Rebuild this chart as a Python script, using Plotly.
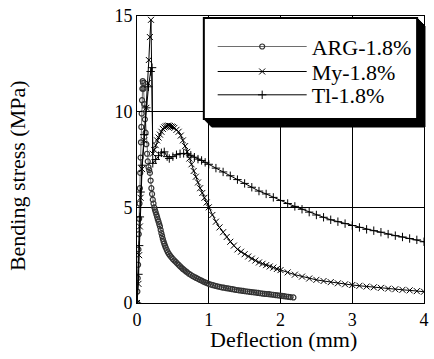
import plotly.graph_objects as go

# ---------------- data ----------------
arg_x = [0, 0.005, 0.01, 0.015, 0.02, 0.025, 0.03, 0.035, 0.04, 0.045, 0.05, 0.055, 0.06,
         0.065, 0.07, 0.075, 0.08, 0.085, 0.09, 0.10, 0.11, 0.12, 0.13, 0.14, 0.15, 0.16,
         0.17, 0.18, 0.19, 0.20, 0.21, 0.22, 0.23, 0.24, 0.25, 0.26, 0.27, 0.28, 0.29, 0.30,
         0.31, 0.32, 0.33, 0.34, 0.35, 0.36, 0.37, 0.38, 0.39, 0.40, 0.415, 0.43, 0.445, 0.46,
         0.48, 0.50, 0.52, 0.54, 0.56, 0.58, 0.60, 0.62, 0.64, 0.66, 0.68, 0.70, 0.725, 0.75,
         0.775, 0.80, 0.825, 0.85, 0.875, 0.90, 0.925, 0.95, 0.975, 1.0, 1.03, 1.06, 1.09,
         1.12, 1.15, 1.18, 1.21, 1.24, 1.27, 1.30, 1.33, 1.36, 1.39, 1.42, 1.45, 1.48, 1.51,
         1.54, 1.57, 1.60, 1.63, 1.66, 1.69, 1.72, 1.75, 1.78, 1.81, 1.84, 1.87, 1.90, 1.93,
         1.96, 1.99, 2.02, 2.05, 2.08, 2.11, 2.14, 2.18]
arg_y = [0, 0.6, 1.3, 2.0, 2.8, 3.6, 4.4, 5.2, 6.0, 6.8, 7.6, 8.4, 9.2,
         9.9, 10.6, 11.2, 11.6, 11.5, 11.2, 10.4, 9.6, 8.9, 8.3, 7.8, 7.4, 7.1,
         6.95, 6.8, 6.4, 6.0, 5.7, 5.4, 5.2, 5.0, 4.87, 4.75, 4.62, 4.5, 4.37, 4.25,
         4.12, 4.0, 3.82, 3.65, 3.5, 3.35, 3.22, 3.1, 3.0, 2.9, 2.77, 2.65, 2.56, 2.48,
         2.39, 2.3, 2.22, 2.15, 2.07, 2.0, 1.92, 1.85, 1.78, 1.72, 1.66, 1.6, 1.53, 1.47,
         1.41, 1.36, 1.31, 1.26, 1.21, 1.17, 1.12, 1.08, 1.04, 1.0, 0.96, 0.93, 0.9,
         0.87, 0.84, 0.82, 0.8, 0.78, 0.76, 0.74, 0.72, 0.7, 0.68, 0.66, 0.645, 0.63, 0.615,
         0.6, 0.585, 0.57, 0.555, 0.54, 0.525, 0.51, 0.495, 0.48, 0.47, 0.46, 0.445, 0.43, 0.415,
         0.4, 0.385, 0.37, 0.355, 0.34, 0.325, 0.31, 0.29]

my_x = [0, 0.02, 0.03, 0.04, 0.05, 0.07, 0.10, 0.13, 0.15, 0.165, 0.18, 0.195, 0.22,
        0.24, 0.26, 0.28, 0.30, 0.32, 0.34, 0.36, 0.38, 0.40, 0.42, 0.44, 0.46, 0.48, 0.50,
        0.52, 0.55, 0.58, 0.61, 0.64, 0.67, 0.70, 0.73, 0.76, 0.79, 0.82, 0.85, 0.88, 0.91,
        0.94, 0.97, 1.0, 1.05, 1.1, 1.15, 1.2, 1.25, 1.3, 1.35, 1.4, 1.45, 1.5, 1.55, 1.6,
        1.65, 1.7, 1.75, 1.8, 1.85, 1.9, 1.95, 2.0, 2.1, 2.2, 2.3, 2.4, 2.5, 2.6, 2.7, 2.8,
        2.9, 3.0, 3.1, 3.2, 3.3, 3.4, 3.5, 3.6, 3.7, 3.8, 3.9, 4.0]
my_y = [0, 1.0, 2.5, 4.0, 5.5, 7.0, 8.5, 10.2, 11.5, 12.7, 13.9, 14.8, 7.8,
        8.0, 8.25, 8.5, 8.65, 8.8, 8.95, 9.1, 9.18, 9.23, 9.26, 9.27, 9.25, 9.22, 9.2,
        9.15, 9.05, 8.95, 8.75, 8.5, 8.2, 7.9, 7.55, 7.25, 6.9, 6.6, 6.3, 6.0, 5.75,
        5.5, 5.25, 5.0, 4.6, 4.25, 3.95, 3.7, 3.45, 3.2, 3.0, 2.8, 2.68, 2.55, 2.43, 2.32,
        2.22, 2.12, 2.05, 1.98, 1.91, 1.85, 1.78, 1.72, 1.6, 1.48, 1.38, 1.28, 1.21, 1.15,
        1.09, 1.03, 0.98, 0.94, 0.9, 0.86, 0.82, 0.79, 0.75, 0.72, 0.69, 0.66, 0.62, 0.59]

tl_x = [0, 0.02, 0.03, 0.04, 0.05, 0.07, 0.10, 0.13, 0.16, 0.19, 0.21, 0.22, 0.26,
        0.30, 0.34, 0.38, 0.42, 0.45, 0.50, 0.55, 0.60, 0.65, 0.70, 0.75, 0.80, 0.85,
        0.90, 0.95, 1.0, 1.1, 1.2, 1.3, 1.4, 1.5, 1.6, 1.7, 1.8, 1.9, 2.0, 2.1, 2.2, 2.3,
        2.4, 2.5, 2.6, 2.7, 2.8, 2.9, 3.0, 3.1, 3.2, 3.3, 3.4, 3.5, 3.6, 3.7, 3.8, 3.9, 4.0]
tl_y = [0, 1.5, 3.0, 4.5, 5.8, 7.2, 8.8, 10.2, 11.3, 12.1, 12.3, 7.3, 7.5,
        7.7, 7.85, 7.9, 7.65, 7.55, 7.65, 7.75, 7.8, 7.82, 7.8, 7.72, 7.62, 7.52,
        7.45, 7.35, 7.25, 7.05, 6.85, 6.65, 6.45, 6.25, 6.05, 5.85, 5.7, 5.52, 5.36, 5.2,
        5.05, 4.9, 4.75, 4.6, 4.48, 4.35, 4.25, 4.15, 4.05, 3.95, 3.85, 3.78, 3.7, 3.6,
        3.52, 3.45, 3.37, 3.3, 3.2]

names = ["ARG-1.8%", "My-1.8%", "Tl-1.8%"]
x_ticks = [0, 1, 2, 3, 4]
y_ticks = [0, 5, 10, 15]

FONT = "Liberation Serif"

# plot area in pixels (for placing decoration)
W, H = 434, 359
L, R, T, B = 137, 5, 16, 56
PW, PH = W - L - R, H - T - B


def px(xp):
    return (xp - L) / PW


def py(yp):
    return (H - B - yp) / PH


fig = go.Figure()
fig.add_trace(go.Scatter(
    x=arg_x, y=arg_y, name=names[0], mode="lines+markers", legend="legend",
    line=dict(color="#6e6e6e", width=1),
    marker=dict(symbol="circle-open", size=5, color="#333333", line=dict(width=1.2)),
))
fig.add_trace(go.Scatter(
    x=my_x, y=my_y, name=names[1], mode="lines+markers", legend="legend2",
    line=dict(color="black", width=1),
    marker=dict(symbol="x-thin-open", size=6, color="black", line=dict(width=1, color="black")),
))
fig.add_trace(go.Scatter(
    x=tl_x, y=tl_y, name=names[2], mode="lines+markers", legend="legend3",
    line=dict(color="black", width=1),
    marker=dict(symbol="cross-thin-open", size=6, color="black", line=dict(width=1, color="black")),
))

axis_common = dict(
    showline=True, linecolor="black", linewidth=1, mirror="ticks",
    showgrid=True, gridcolor="black", gridwidth=1,
    ticks="inside", ticklen=5, tickcolor="black",
    zeroline=False, ticklabeloverflow="allow",
    tickfont=dict(family=FONT, size=18, color="black"),
)

fig.update_layout(
    width=W, height=H,
    margin=dict(l=L, r=R, t=T, b=B),
    paper_bgcolor="white", plot_bgcolor="white",
    font=dict(family=FONT, color="black"),
    xaxis=dict(range=[0, 4], tickvals=x_ticks, ticktext=[str(v) for v in x_ticks],
               **axis_common),
    yaxis=dict(range=[0, 15], tickvals=y_ticks, ticktext=[str(v) for v in y_ticks],
               **axis_common),
    showlegend=True,
)

leg_common = dict(
    bgcolor="rgba(0,0,0,0)", borderwidth=0,
    font=dict(family=FONT, size=22, color="black"),
    itemwidth=89, xanchor="left", yanchor="middle",
)
row_y = [46.7, 71.7, 95.0]
fig.update_layout(
    legend=dict(x=px(214), y=py(row_y[0]), **leg_common),
    legend2=dict(x=px(214), y=py(row_y[1]), **leg_common),
    legend3=dict(x=px(214), y=py(row_y[2]), **leg_common),
)

# legend frame with drop shadow
shadow = "M {a},{b} L {c},{d} L {e},{d} L {e},{f} L {g},{h} Z".format(
    a=px(205), b=py(119), c=px(213), d=py(127), e=px(430), f=py(26), g=px(422), h=py(18))
fig.add_shape(type="path", xref="paper", yref="paper", path=shadow,
              fillcolor="black", line=dict(color="black", width=1), layer="above")
fig.add_shape(type="rect", xref="paper", yref="paper",
              x0=px(205), x1=px(422), y0=py(119), y1=py(18),
              fillcolor="white", line=dict(color="black", width=2), layer="above")

# axis titles
fig.add_annotation(text="Bending stress (MPa)", xref="paper", yref="paper",
                   x=px(15), y=py(176), textangle=-90, showarrow=False,
                   xanchor="center", yanchor="middle",
                   font=dict(family=FONT, size=22, color="black"))
fig.add_annotation(text="Deflection (mm)", xref="paper", yref="paper",
                   x=px(286), y=py(339), showarrow=False,
                   xanchor="center", yanchor="middle",
                   font=dict(family=FONT, size=22, color="black"))

fig.write_html("out.html")
